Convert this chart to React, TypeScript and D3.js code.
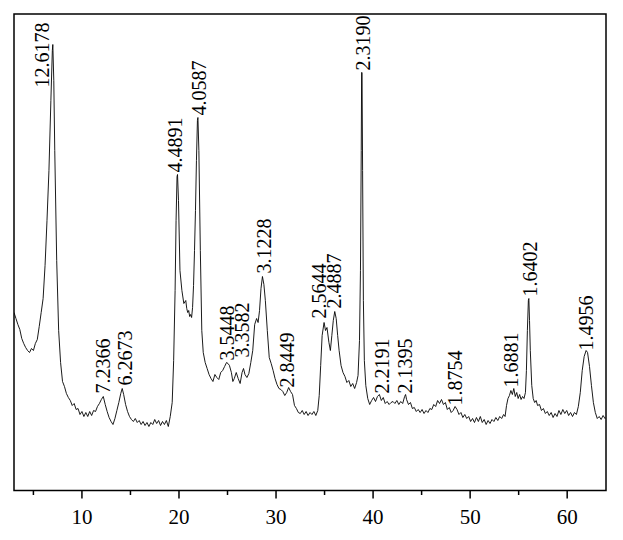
import React from "react";
import * as d3 from "d3";

// XRD scan: [2θ (deg), intensity (counts)]
const scan: [number, number][] = [
  [3.0, 1780], [3.2, 1720], [3.4, 1660], [3.6, 1610], [3.8, 1520], [4.0, 1470], [4.2, 1430], [4.4, 1400],
  [4.6, 1380], [4.8, 1420], [5.0, 1400], [5.2, 1470], [5.4, 1510], [5.6, 1640], [5.8, 1780], [6.0, 1920],
  [6.2, 2250], [6.4, 2700], [6.6, 3200], [6.8, 3900], [6.95, 4400], [7.0, 4460], [7.1, 4100], [7.2, 3400],
  [7.4, 2300], [7.6, 1600], [7.8, 1280], [8.0, 1090], [8.2, 1040], [8.4, 970], [8.6, 930], [8.8, 900],
  [9.0, 850], [9.2, 870], [9.4, 810], [9.6, 820], [9.8, 760], [10.0, 790], [10.2, 740], [10.4, 780],
  [10.6, 740], [10.8, 790], [11.0, 750], [11.2, 800], [11.4, 790], [11.6, 840], [11.8, 870], [12.0, 910],
  [12.2, 940], [12.4, 860], [12.6, 790], [12.8, 730], [13.0, 690], [13.2, 660], [13.4, 720], [13.6, 800],
  [13.8, 880], [14.0, 970], [14.15, 1020], [14.3, 960], [14.5, 860], [14.7, 790], [14.9, 740], [15.1, 710],
  [15.3, 690], [15.5, 720], [15.7, 680], [15.9, 700], [16.1, 660], [16.3, 690], [16.5, 650], [16.7, 680],
  [16.9, 640], [17.1, 680], [17.3, 660], [17.5, 710], [17.7, 670], [17.9, 700], [18.1, 650], [18.3, 690],
  [18.5, 660], [18.7, 700], [18.9, 640], [19.1, 740], [19.3, 880], [19.45, 1300], [19.6, 2000], [19.7, 2700],
  [19.8, 3140], [19.85, 3160], [19.95, 2900], [20.1, 2200], [20.3, 2000], [20.5, 1870], [20.7, 1900], [20.8, 1820],
  [20.9, 1780], [21.0, 1800], [21.1, 1740], [21.2, 1760], [21.3, 1730], [21.4, 1830], [21.5, 2050], [21.6, 2400],
  [21.7, 2800], [21.8, 3300], [21.9, 3700], [21.95, 3730], [22.05, 3400], [22.2, 2400], [22.35, 1600], [22.5, 1380],
  [22.7, 1280], [22.9, 1220], [23.1, 1160], [23.3, 1120], [23.5, 1090], [23.7, 1160], [23.9, 1130], [24.1, 1110],
  [24.3, 1180], [24.5, 1200], [24.7, 1240], [24.9, 1280], [25.05, 1270], [25.2, 1250], [25.4, 1180], [25.55, 1090],
  [25.7, 1120], [25.9, 1180], [26.1, 1120], [26.3, 1070], [26.5, 1180], [26.65, 1220], [26.8, 1160], [27.0, 1130],
  [27.2, 1170], [27.4, 1280], [27.6, 1400], [27.8, 1660], [28.0, 1720], [28.15, 1680], [28.3, 1800], [28.45, 2020],
  [28.6, 2140], [28.75, 2060], [28.9, 1900], [29.1, 1600], [29.3, 1330], [29.5, 1270], [29.7, 1200], [29.9, 1120],
  [30.1, 1060], [30.3, 1020], [30.5, 1010], [30.7, 990], [30.9, 950], [31.1, 980], [31.3, 1030], [31.5, 990],
  [31.7, 960], [31.9, 850], [32.1, 820], [32.3, 780], [32.5, 770], [32.7, 800], [32.9, 760], [33.1, 790],
  [33.3, 750], [33.5, 780], [33.7, 760], [33.9, 790], [34.1, 750], [34.3, 800], [34.45, 950], [34.6, 1250],
  [34.75, 1550], [34.95, 1680], [35.1, 1600], [35.25, 1630], [35.45, 1480], [35.6, 1400], [35.75, 1550], [35.9, 1700],
  [36.05, 1790], [36.2, 1720], [36.35, 1550], [36.5, 1400], [36.7, 1250], [36.9, 1180], [37.1, 1140], [37.3, 1080],
  [37.5, 1100], [37.7, 1040], [37.9, 1070], [38.1, 1020], [38.3, 1080], [38.45, 1150], [38.6, 1500], [38.7, 2200],
  [38.78, 3400], [38.82, 4180], [38.86, 4180], [38.92, 3200], [39.0, 1900], [39.1, 1300], [39.25, 1050], [39.45, 920],
  [39.65, 860], [39.85, 900], [40.05, 930], [40.25, 890], [40.45, 940], [40.65, 960], [40.85, 900], [41.05, 930],
  [41.25, 870], [41.45, 890], [41.65, 860], [41.85, 880], [42.05, 890], [42.25, 870], [42.45, 900], [42.65, 860],
  [42.85, 890], [43.05, 870], [43.25, 940], [43.35, 960], [43.45, 910], [43.65, 860], [43.85, 880], [44.05, 820],
  [44.25, 830], [44.45, 790], [44.65, 810], [44.85, 780], [45.05, 810], [45.25, 770], [45.45, 800], [45.65, 780],
  [45.85, 820], [46.05, 810], [46.25, 860], [46.45, 840], [46.65, 900], [46.85, 870], [47.05, 910], [47.25, 860],
  [47.45, 880], [47.65, 810], [47.85, 830], [48.05, 780], [48.25, 800], [48.45, 840], [48.65, 810], [48.85, 760],
  [49.05, 780], [49.25, 730], [49.45, 760], [49.65, 720], [49.85, 740], [50.05, 690], [50.25, 720], [50.45, 680],
  [50.65, 730], [50.85, 690], [51.05, 740], [51.25, 680], [51.45, 710], [51.65, 660], [51.85, 700], [52.05, 670],
  [52.25, 710], [52.45, 690], [52.65, 730], [52.85, 700], [53.05, 740], [53.25, 720], [53.45, 760], [53.6, 740],
  [53.75, 850], [53.9, 920], [54.05, 950], [54.2, 1000], [54.35, 960], [54.5, 1020], [54.65, 940], [54.8, 980],
  [54.95, 920], [55.1, 960], [55.25, 910], [55.4, 940], [55.55, 920], [55.7, 980], [55.8, 1200], [55.9, 1600],
  [56.0, 1900], [56.05, 1920], [56.12, 1700], [56.2, 1400], [56.35, 1050], [56.5, 920], [56.65, 880], [56.8, 900],
  [56.95, 850], [57.15, 860], [57.35, 800], [57.55, 820], [57.75, 770], [57.95, 790], [58.15, 750], [58.35, 780],
  [58.55, 730], [58.75, 770], [58.95, 740], [59.15, 800], [59.35, 760], [59.55, 810], [59.75, 770], [59.95, 800],
  [60.15, 750], [60.35, 780], [60.55, 740], [60.75, 780], [60.95, 760], [61.15, 840], [61.35, 980], [61.55, 1200],
  [61.75, 1340], [61.95, 1400], [62.1, 1380], [62.3, 1240], [62.5, 1050], [62.7, 880], [62.9, 780], [63.1, 720],
  [63.3, 740], [63.5, 710], [63.7, 750], [63.9, 720], [64.0, 730],
];

// peak labels: d-spacing text, 2θ of label, intensity where the label starts
const peakLabels = ["12.6178", "7.2366", "6.2673", "4.4891", "4.0587", "3.5448", "3.3582", "3.1228", "2.8449",
  "2.5644", "2.4887", "2.3190", "2.2191", "2.1395", "1.8754", "1.6881", "1.6402", "1.4956"];
const peakLabelTheta = [5.89, 12.22, 14.44, 19.64, 22.06, 24.95, 26.49, 28.71, 31.18,
  34.38, 36.02, 38.91, 40.97, 43.34, 48.49, 54.16, 56.12, 61.89];
const peakLabelCounts = [4030, 970, 1050, 3180, 3750, 1300, 1330, 2170, 1030,
  1720, 1820, 4200, 970, 970, 850, 1030, 1940, 1400];

const xDomain: [number, number] = [3, 64];
const yDomain: [number, number] = [0, 4765];
const majorTicks = [10, 20, 30, 40, 50, 60];
const minorTicks = [5, 15, 25, 35, 45, 55];

const W = 623;
const H = 540;
const left = 14;
const right = 606;
const top = 14;
const bottom = 490.5;
const FONT = "'Liberation Serif', 'Times New Roman', serif";

export default function App() {
  const x = d3.scaleLinear().domain(xDomain).range([left, right]);
  const y = d3.scaleLinear().domain(yDomain).range([bottom, top]);
  const line = d3
    .line<[number, number]>()
    .x((d) => x(d[0]))
    .y((d) => y(d[1]));

  return (
    <svg
      width={W}
      height={H}
      style={{ position: "absolute", left: 0, top: 0, background: "#fff" }}
    >
      <defs>
        <clipPath id="plotclip">
          <rect x={left} y={top - 2} width={right - left} height={bottom - top + 2} />
        </clipPath>
      </defs>
      <path
        d={line(scan) || ""}
        fill="none"
        stroke="#000"
        strokeWidth={0.9}
        strokeLinejoin="round"
        clipPath="url(#plotclip)"
      />
      {peakLabels.map((t, i) => {
        const px = x(peakLabelTheta[i]);
        const py = y(peakLabelCounts[i]);
        return (
          <text
            key={t}
            transform={`translate(${px},${py}) rotate(-90)`}
            dy="0.35em"
            textAnchor="start"
            fontFamily={FONT}
            fontSize={20}
            fill="#000"
          >
            {t}
          </text>
        );
      })}
      <rect
        x={left}
        y={top}
        width={right - left}
        height={bottom - top}
        fill="none"
        stroke="#000"
        strokeWidth={1.5}
      />
      {majorTicks.map((t) => (
        <g key={"M" + t}>
          <line x1={x(t)} x2={x(t)} y1={bottom} y2={bottom + 8} stroke="#000" strokeWidth={1.5} />
          <text
            x={x(t)}
            y={524}
            textAnchor="middle"
            fontFamily={FONT}
            fontSize={21}
            fill="#000"
          >
            {t}
          </text>
        </g>
      ))}
      {minorTicks.map((t) => (
        <line key={"m" + t} x1={x(t)} x2={x(t)} y1={bottom} y2={bottom + 4.5} stroke="#000" strokeWidth={1.5} />
      ))}
    </svg>
  );
}
